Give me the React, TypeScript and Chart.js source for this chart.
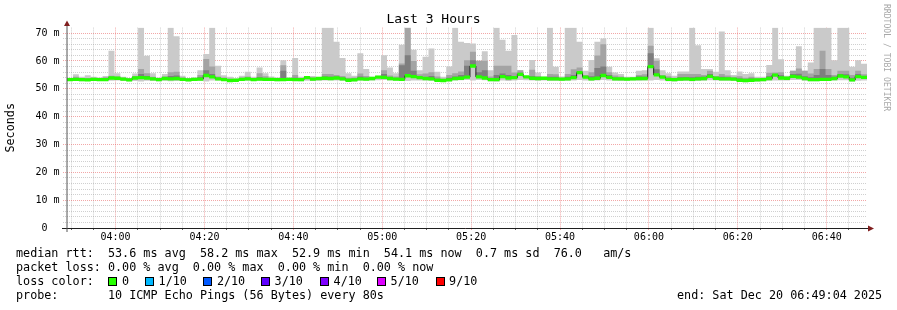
import React, { useEffect, useRef } from 'react';
import { Chart, registerables } from 'chart.js';

Chart.register(...registerables);

// ---- time frame ----
const START_SEC = 3 * 3600 + 49 * 60 + 4; // 03:49:04
const SPAN_MIN = 180;
const STEP_MIN = 80 / 60; // one ping round every 80 s
const majorLabels = ['04:00', '04:20', '04:40', '05:00', '05:20', '05:40', '06:00', '06:20', '06:40'];
const yMajorLabels = ['0  ', '10 m', '20 m', '30 m', '40 m', '50 m', '60 m', '70 m'];

// ---- data (ms) ----
const median = [
  53.3, 53.4, 53.3, 53.2, 53.4, 53.3, 53.3, 53.9, 53.8, 53.5,
  53.2, 53.9, 54.0, 53.9, 53.6, 53.3, 53.7, 53.6, 53.7, 53.4,
  53.2, 53.4, 53.5, 54.8, 54.3, 53.6, 53.3, 53.0, 53.1, 53.4,
  53.6, 53.3, 53.5, 53.4, 53.4, 53.3, 53.3, 53.4, 53.3, 53.3,
  54.0, 53.5, 53.7, 53.8, 53.7, 53.9, 53.6, 53.1, 53.2, 53.6,
  53.5, 53.7, 54.2, 54.1, 53.7, 53.5, 53.4, 54.7, 54.4, 54.0,
  53.7, 53.6, 53.1, 53.0, 53.2, 53.7, 53.8, 54.2, 58.2, 54.3,
  53.9, 53.3, 53.3, 54.4, 53.9, 54.0, 55.2, 54.3, 53.8, 53.7,
  53.8, 53.6, 53.6, 53.5, 53.6, 54.0, 55.8, 54.2, 53.6, 53.8,
  54.8, 54.1, 53.6, 53.6, 53.5, 53.6, 53.7, 53.7, 58.0, 55.0,
  54.2, 53.4, 53.3, 53.5, 53.6, 53.4, 53.6, 53.7, 54.5, 53.8,
  53.6, 53.6, 53.5, 53.1, 53.0, 53.1, 53.2, 53.3, 53.7, 54.9,
  53.9, 53.8, 54.5, 54.2, 53.7, 53.3, 53.3, 53.4, 53.4, 53.7,
  54.6, 54.3, 53.2, 54.4, 54.1,
];

const smokeMax = [
  54.0, 55.2, 54.3, 54.9, 54.3, 54.1, 54.6, 63.7, 55.6, 54.3,
  53.9, 55.5, 72.0, 61.9, 55.6, 54.1, 55.3, 72.0, 68.9, 54.7,
  53.9, 54.1, 56.7, 62.5, 72.0, 58.3, 54.9, 54.3, 53.7, 54.7,
  56.1, 54.3, 57.7, 55.6, 54.4, 54.1, 60.3, 54.1, 61.1, 54.3,
  54.6, 54.6, 54.1, 72.0, 72.0, 66.9, 61.1, 55.6, 54.7, 62.8,
  57.1, 54.3, 54.7, 62.1, 57.7, 55.6, 65.8, 72.0, 64.0, 56.7,
  61.5, 64.5, 56.1, 54.3, 58.0, 72.0, 66.9, 66.5, 66.3, 60.1,
  63.5, 56.7, 72.0, 67.6, 63.7, 69.3, 56.7, 54.6, 60.4, 55.9,
  54.3, 72.0, 57.9, 54.4, 72.0, 72.0, 66.9, 56.5, 60.4, 66.9,
  68.1, 57.9, 55.9, 55.3, 54.3, 54.3, 56.5, 56.7, 72.0, 61.0,
  56.7, 55.6, 54.7, 56.2, 56.2, 72.0, 65.7, 57.1, 57.1, 56.1,
  70.6, 56.7, 55.0, 56.2, 55.3, 55.6, 54.3, 54.3, 58.6, 72.0,
  60.6, 54.7, 56.5, 65.3, 56.5, 59.5, 72.0, 72.0, 72.0, 60.3,
  72.0, 72.0, 57.9, 60.3, 59.0,
];

const smokeP9 = [
  53.9, 54.3, 53.9, 53.9, 54.0, 53.9, 54.2, 54.7, 54.4, 54.0,
  53.7, 54.6, 57.1, 55.6, 54.3, 53.8, 54.4, 56.0, 56.1, 54.1,
  53.7, 53.9, 55.0, 60.7, 58.0, 54.4, 54.1, 53.6, 53.5, 54.1,
  54.4, 53.9, 55.6, 54.5, 53.9, 53.8, 58.5, 53.8, 55.0, 53.9,
  54.4, 54.1, 53.9, 55.3, 55.3, 55.0, 54.6, 54.0, 54.1, 55.5,
  54.6, 54.0, 54.5, 56.7, 54.8, 54.4, 59.1, 72.0, 60.0, 55.2,
  55.5, 56.0, 54.4, 53.6, 55.0, 55.6, 56.2, 60.3, 63.3, 60.1,
  60.1, 54.4, 58.3, 58.3, 58.3, 55.9, 56.7, 54.6, 56.9, 54.6,
  54.1, 55.3, 55.2, 54.0, 55.3, 57.0, 57.7, 55.0, 56.0, 62.0,
  66.0, 56.0, 54.8, 54.4, 54.0, 54.0, 55.0, 55.2, 65.5, 60.1,
  55.0, 54.5, 54.0, 55.3, 55.3, 55.3, 55.3, 55.0, 56.5, 54.6,
  55.3, 54.8, 54.3, 54.5, 54.0, 54.3, 53.8, 53.9, 55.8, 55.9,
  56.0, 54.2, 56.5, 57.3, 56.5, 55.5, 57.1, 63.7, 57.1, 55.0,
  56.5, 56.5, 55.0, 56.5, 55.2,
];

const smokeP8 = [
  53.6, 53.8, 53.6, 53.5, 53.7, 53.6, 53.7, 54.2, 54.1, 53.8,
  53.5, 54.2, 55.3, 54.6, 53.9, 53.6, 54.0, 54.6, 54.8, 53.7,
  53.5, 53.7, 54.2, 56.7, 55.3, 53.9, 53.6, 53.3, 53.4, 53.7,
  53.9, 53.6, 54.2, 53.9, 53.7, 53.6, 56.5, 53.6, 54.0, 53.6,
  54.3, 53.8, 54.0, 54.4, 54.3, 54.3, 54.0, 53.4, 53.6, 54.4,
  54.0, 53.9, 54.4, 55.3, 54.0, 53.8, 58.5, 62.1, 56.5, 54.5,
  54.2, 54.6, 53.5, 53.3, 54.0, 54.4, 55.0, 58.3, 60.3, 56.0,
  56.7, 53.7, 55.0, 55.5, 55.0, 54.6, 55.8, 54.5, 54.5, 54.1,
  54.0, 54.3, 54.3, 53.8, 54.3, 55.0, 56.3, 54.6, 54.5, 57.5,
  58.0, 55.0, 54.0, 53.9, 53.8, 53.9, 54.4, 54.3, 62.8, 57.0,
  54.6, 53.8, 53.6, 54.2, 54.2, 54.2, 54.3, 54.3, 55.3, 54.2,
  54.3, 54.1, 53.9, 53.7, 53.4, 53.7, 53.5, 53.6, 54.5, 55.3,
  54.9, 54.1, 55.3, 55.4, 54.5, 54.2, 55.0, 57.1, 55.0, 54.3,
  55.3, 55.2, 54.0, 55.3, 54.6,
];

const smokeMin = [
  52.8, 52.9, 52.7, 52.8, 52.9, 52.8, 52.8, 52.9, 53.0, 52.8,
  52.7, 52.8, 52.6, 52.9, 52.8, 52.7, 52.9, 52.7, 52.8, 52.9,
  52.7, 52.8, 52.9, 52.6, 53.0, 53.0, 52.8, 52.6, 52.6, 52.8,
  52.9, 52.8, 52.9, 52.8, 52.9, 52.7, 52.8, 52.9, 52.8, 52.7,
  52.9, 52.8, 52.9, 53.0, 53.0, 53.0, 52.9, 52.6, 52.7, 53.0,
  52.9, 53.0, 53.1, 53.2, 53.0, 52.9, 52.8, 52.8, 53.0, 53.0,
  53.0, 52.9, 52.6, 52.5, 52.7, 53.0, 53.1, 53.2, 53.0, 53.2,
  53.1, 52.7, 52.6, 53.0, 52.8, 53.0, 53.2, 53.1, 53.0, 52.9,
  53.0, 52.8, 52.8, 52.8, 52.9, 53.0, 53.2, 53.0, 52.9, 53.0,
  53.2, 53.0, 52.9, 52.8, 52.9, 53.0, 52.9, 53.0, 53.0, 53.2,
  53.0, 52.7, 52.6, 52.8, 52.8, 52.7, 52.8, 52.9, 53.1, 53.0,
  52.9, 52.9, 52.8, 52.5, 52.4, 52.6, 52.6, 52.7, 52.9, 53.0,
  53.0, 53.0, 53.2, 53.2, 52.9, 52.7, 52.7, 52.8, 52.8, 53.0,
  53.1, 53.1, 52.6, 52.9, 53.0,
];

const lossLegend = [
  { label: '0', color: '#26ff00' },
  { label: '1/10', color: '#00b8ff' },
  { label: '2/10', color: '#0059ff' },
  { label: '3/10', color: '#5e00ff' },
  { label: '4/10', color: '#7e00ff' },
  { label: '5/10', color: '#dd00ff' },
  { label: '9/10', color: '#ff0000' },
];

// ---- styles ----
const MONO = '"DejaVu Sans Mono", monospace';
const GRID = 'rgba(150,150,150,0.45)';
const MGRID = 'rgba(230,80,80,0.5)';
const GREEN = '#26ff00';
const BAND = 0.6; // half thickness of the median band, ms

function steps(arr: number[]) {
  const pts = arr.map((v, i) => ({ x: i * STEP_MIN, y: v }));
  pts.push({ x: arr.length * STEP_MIN, y: arr[arr.length - 1] });
  return pts;
}

function clock(min: number) {
  const s = Math.round(START_SEC + min * 60);
  const h = Math.floor(s / 3600) % 24;
  const m = Math.floor((s % 3600) / 60);
  return `${String(h).padStart(2, '0')}:${String(m).padStart(2, '0')}`;
}

const axisPlugin = {
  id: 'rrdAxes',
  afterDatasetsDraw(chart: any) {
    const { ctx, chartArea: a } = chart;
    const y0 = Math.round(chart.scales.y.getPixelForValue(0)) + 0.5;
    const x0 = Math.round(a.left);
    ctx.save();
    ctx.strokeStyle = '#1f1f1f';
    ctx.lineWidth = 1;
    ctx.beginPath();
    ctx.moveTo(a.left - 5, y0);
    ctx.lineTo(a.right + 2, y0);
    ctx.stroke();
    ctx.strokeStyle = '#555';
    ctx.beginPath();
    ctx.moveTo(x0, a.bottom + 4);
    ctx.lineTo(x0, a.top - 3);
    ctx.stroke();
    ctx.fillStyle = '#801f1f';
    ctx.beginPath();
    ctx.moveTo(x0 - 3, a.top - 1.5);
    ctx.lineTo(x0 + 3, a.top - 1.5);
    ctx.lineTo(x0, a.top - 7);
    ctx.closePath();
    ctx.fill();
    ctx.beginPath();
    ctx.moveTo(a.right + 1, y0 - 3);
    ctx.lineTo(a.right + 1, y0 + 3);
    ctx.lineTo(a.right + 7, y0);
    ctx.closePath();
    ctx.fill();
    ctx.restore();
  },
};

export default function App() {
  const ref = useRef<HTMLCanvasElement>(null);

  useEffect(() => {
    if (!ref.current) return;
    const line = (extra: any) => ({
      stepped: 'before',
      pointRadius: 0,
      borderWidth: 0,
      borderColor: 'transparent',
      fill: false,
      ...extra,
    });
    const chart = new Chart(ref.current, {
      type: 'line',
      data: {
        datasets: [
          line({ label: 'median band', data: steps(median.map((v) => v + BAND)), fill: 1, backgroundColor: GREEN }),
          line({ label: 'median band low', data: steps(median.map((v) => v - BAND)) }),
          line({ label: 'median', data: steps(median), borderWidth: 1, borderColor: '#202020' }),
          line({ label: 'ping 8', data: steps(smokeP8), fill: 2, backgroundColor: '#7e7e7e' }),
          line({ label: 'ping 9', data: steps(smokeP9), fill: 2, backgroundColor: '#a4a4a4' }),
          line({ label: 'max', data: steps(smokeMax), fill: 6, backgroundColor: '#cacaca' }),
          line({ label: 'min', data: steps(smokeMin) }),
        ],
      },
      options: {
        animation: false,
        responsive: false,
        maintainAspectRatio: false,
        events: [],
        layout: { padding: { left: 0, right: 30, top: 0, bottom: 0 } },
        plugins: {
          legend: { display: false },
          tooltip: { enabled: false },
          title: {
            display: true,
            text: 'Last 3 Hours',
            color: '#000',
            font: { family: MONO, size: 13, weight: 'normal', lineHeight: 1.2 },
            padding: { top: 12, bottom: 0 },
          },
        },
        scales: {
          x: {
            type: 'linear',
            min: 0,
            max: SPAN_MIN,
            afterBuildTicks: (scale: any) => {
              const first = ((300 - (START_SEC % 300)) % 300) / 60;
              const t: any[] = [];
              for (let m = first; m <= SPAN_MIN + 1e-9; m += 5) t.push({ value: m });
              scale.ticks = t;
            },
            afterFit: (scale: any) => {
              scale.height = 82;
            },
            ticks: {
              autoSkip: false,
              maxRotation: 0,
              padding: 1,
              color: '#000',
              font: { family: MONO, size: 10 },
              callback: (v: any) => {
                const c = clock(Number(v));
                return majorLabels.includes(c) ? c : '';
              },
            },
            grid: {
              color: (ctx: any) => (ctx.tick && majorLabels.includes(clock(ctx.tick.value)) ? MGRID : GRID),
              tickColor: (ctx: any) => (ctx.tick && majorLabels.includes(clock(ctx.tick.value)) ? MGRID : '#666'),
              lineWidth: 1,
              tickLength: 2,
            },
            border: { display: false, dash: [1, 1] },
          },
          y: {
            type: 'linear',
            min: 0,
            max: 72,
            afterBuildTicks: (scale: any) => {
              const t: any[] = [];
              for (let v = 0; v <= 70; v += 2) t.push({ value: v });
              scale.ticks = t;
            },
            afterFit: (scale: any) => {
              scale.width = 67;
            },
            ticks: {
              autoSkip: false,
              padding: 3.5,
              color: '#000',
              font: { family: MONO, size: 10 },
              callback: (v: any) => (Number(v) % 10 === 0 ? yMajorLabels[Number(v) / 10] : ''),
            },
            grid: {
              color: (ctx: any) => (ctx.tick && ctx.tick.value % 10 === 0 ? MGRID : GRID),
              tickColor: (ctx: any) => (ctx.tick && ctx.tick.value % 10 === 0 ? MGRID : GRID),
              tickBorderDash: [1, 1],
              lineWidth: 1,
              tickLength: 4,
            },
            border: { display: false, dash: [1, 1] },
            title: {
              display: true,
              text: 'Seconds',
              color: '#000',
              font: { family: MONO, size: 11.76, lineHeight: 1.2 },
              padding: { top: 4, bottom: 0 },
            },
          },
        },
      },
      plugins: [axisPlugin],
    } as any);
    return () => chart.destroy();
  }, []);

  const text: React.CSSProperties = {
    position: 'absolute',
    fontFamily: MONO,
    fontSize: '11.76px',
    lineHeight: '14px',
    whiteSpace: 'pre',
    color: '#000',
  };
  const boxX = [108.3, 145, 203.3, 261, 320, 377, 435.5];

  return (
    <div style={{ position: 'absolute', left: 0, top: 0, width: 897, height: 310, background: '#fff', overflow: 'hidden' }}>
      <canvas ref={ref} width={897} height={310} style={{ position: 'absolute', left: 0, top: 0, width: 897, height: 310 }} />
      <div style={{ ...text, left: 16, top: 246.3 }}>
        {'median rtt:  53.6 ms avg  58.2 ms max  52.9 ms min  54.1 ms now  0.7 ms sd  76.0   am/s'}
      </div>
      <div style={{ ...text, left: 16, top: 260.3 }}>{'packet loss: 0.00 % avg  0.00 % max  0.00 % min  0.00 % now'}</div>
      <div style={{ ...text, left: 16, top: 274.3 }}>{'loss color:'}</div>
      {lossLegend.map((it, i) => (
        <React.Fragment key={it.label}>
          <div
            style={{
              position: 'absolute',
              left: boxX[i],
              top: 277.3,
              width: 9,
              height: 9,
              boxSizing: 'border-box',
              border: '1px solid #000',
              background: it.color,
            }}
          />
          <div style={{ ...text, left: boxX[i] + 13.6, top: 274.3 }}>{it.label}</div>
        </React.Fragment>
      ))}
      <div style={{ ...text, left: 16, top: 288.3 }}>{'probe:       10 ICMP Echo Pings (56 Bytes) every 80s'}</div>
      <div style={{ ...text, left: 677, top: 288.3 }}>{'end: Sat Dec 20 06:49:04 2025'}</div>
      <div
        style={{
          position: 'absolute',
          left: 882,
          top: 4,
          writingMode: 'vertical-rl',
          fontFamily: MONO,
          fontSize: '8.1px',
          lineHeight: '10px',
          whiteSpace: 'pre',
          color: '#a8a8a8',
        }}
      >
        {'RRDTOOL / TOBI OETIKER'}
      </div>
    </div>
  );
}
